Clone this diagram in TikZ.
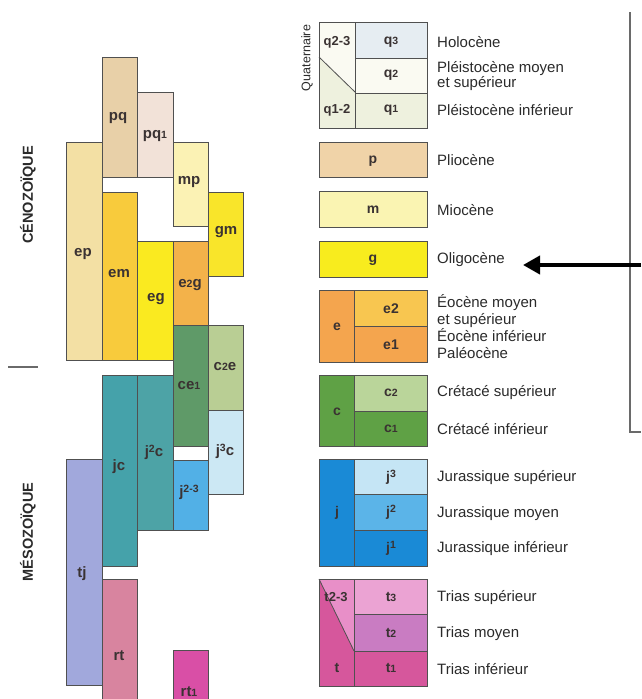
\documentclass[tikz,border=0pt]{standalone}
\usepackage{fontspec}
\setmainfont{Liberation Sans}
\usetikzlibrary{arrows.meta}
\definecolor{boxline}{HTML}{505050}
\definecolor{labtext}{HTML}{3A3232}
\definecolor{legtext}{HTML}{2A2A2A}
\definecolor{cep}{HTML}{F3E0A4}
\definecolor{cpq}{HTML}{E8D0A8}
\definecolor{cpqa}{HTML}{F2E2D8}
\definecolor{cmp}{HTML}{FBF2B4}
\definecolor{cgm}{HTML}{F9E52A}
\definecolor{cem}{HTML}{F8CB3C}
\definecolor{ceg}{HTML}{FAEA20}
\definecolor{cetg}{HTML}{F3B24A}
\definecolor{ccea}{HTML}{5F9A68}
\definecolor{ccte}{HTML}{B9CE94}
\definecolor{cjtc}{HTML}{CCE8F4}
\definecolor{cjtt}{HTML}{52B0E6}
\definecolor{cjdc}{HTML}{4DA3A6}
\definecolor{cjc}{HTML}{45A2AA}
\definecolor{ctj}{HTML}{A1A8DC}
\definecolor{crt}{HTML}{D8849F}
\definecolor{crta}{HTML}{D94FA6}
\definecolor{lqthree}{HTML}{E6EDF2}
\definecolor{lqtwo}{HTML}{FAFAF2}
\definecolor{lqone}{HTML}{EEF1DE}
\definecolor{lp}{HTML}{F0D3A8}
\definecolor{lm}{HTML}{FAF4B2}
\definecolor{lg}{HTML}{F8EC1E}
\definecolor{le}{HTML}{F4A54E}
\definecolor{letwo}{HTML}{F8C650}
\definecolor{lc}{HTML}{5FA145}
\definecolor{lctwo}{HTML}{BAD59A}
\definecolor{lj}{HTML}{1A8AD6}
\definecolor{ljthree}{HTML}{C5E5F5}
\definecolor{ljtwo}{HTML}{5BB4E8}
\definecolor{lt}{HTML}{D6579C}
\definecolor{ltthree}{HTML}{EBA3D3}
\definecolor{lttwo}{HTML}{C97CC2}
\definecolor{lttt}{HTML}{E88FC8}
\definecolor{sepline}{HTML}{6A6A6A}
\newcommand{\sd}[1]{{\fontsize{10.5}{10}\selectfont #1}}
\newcommand{\su}[1]{\raisebox{0.5ex}{\fontsize{10.5}{10}\selectfont #1}}
\begin{document}
\begin{tikzpicture}[x=1pt,y=-1pt,
  box/.style={draw=boxline, line width=0.8pt},
  lab/.style={font=\fontsize{15}{15}\selectfont\bfseries, text=labtext, inner sep=0pt},
  llab/.style={font=\fontsize{14}{14}\selectfont\bfseries, text=labtext, inner sep=0pt},
  desc/.style={font=\fontsize{15}{15}\selectfont, text=legtext, inner sep=0pt, anchor=west, align=left},
  era/.style={font=\fontsize{14.5}{14.5}\selectfont\bfseries, text=legtext, inner sep=0pt, rotate=90},
  rule/.style={draw=sepline, line width=1.2pt}]
\useasboundingbox (0,0) rectangle (641,699);
% ---------------- chart ----------------
\path[box, fill=cep]  (66,142) rectangle (102,360);
\path[box, fill=cpq]  (102,57) rectangle (137,177);
\path[box, fill=cpqa] (137,92) rectangle (173,177);
\path[box, fill=cmp]  (173,142) rectangle (208,226);
\path[box, fill=cgm]  (208,192) rectangle (243,276);
\path[box, fill=cem]  (102,192) rectangle (137,360);
\path[box, fill=ceg]  (137,241) rectangle (173,360);
\path[box, fill=cetg] (173,241) rectangle (208,325);
\path[box, fill=ccea] (173,325) rectangle (208,446);
\path[box, fill=ccte] (208,325) rectangle (243,410);
\path[box, fill=cjtc] (208,410) rectangle (243,494);
\path[box, fill=cjtt] (173,460) rectangle (208,530);
\path[box, fill=cjdc] (137,375) rectangle (173,530);
\path[box, fill=cjc]  (102,375) rectangle (137,566);
\path[box, fill=ctj]  (66,459) rectangle (102,685);
\path[box, fill=crt]  (102,579) rectangle (137,702);
\path[box, fill=crta] (173,650) rectangle (208,702);
\node[lab] (Lpq)  at (118,118) {pq};
\node[lab] (Lpqa) at (155,136) {pq\sd{1}};
\node[lab] (Lep)  at (83,254) {ep};
\node[lab] (Lem)  at (119,274) {em};
\node[lab] (Leg)  at (156,299) {eg};
\node[lab] (Letg) at (190,285) {e\sd{2}g};
\node[lab] (Lmp)  at (189,182) {mp};
\node[lab] (Lgm)  at (226,232) {gm};
\node[lab] (Lcea) at (189,386) {ce\sd{1}};
\node[lab] (Lcte) at (225,367) {c\sd{2}e};
\node[lab] (Ljtc) at (225,451) {j\su{3}c};
\node[lab] (Ljtt) at (189,492) {j\su{2-3}};
\node[lab] (Ljdc) at (154,452) {j\su{2}c};
\node[lab] (Ljc)  at (119,467) {jc};
\node[lab] (Ltj)  at (82,574) {tj};
\node[lab] (Lrt)  at (119,656) {rt};
\node[lab] (Lrta) at (189,692) {rt\sd{1}};
% era labels
\node[era] (ceno) at (28,195) {CÉNOZOÏQUE};
\node[era] (meso) at (28,532) {MÉSOZOÏQUE};
\draw[rule] (8,367) -- (38,367);
% ---------------- legend ----------------
% Quaternary
\path[box, fill=lqthree] (355,22) rectangle (427,58);
\path[box, fill=lqtwo]   (355,58) rectangle (427,93);
\path[box, fill=lqone]   (355,93) rectangle (427,128);
\path[fill=lqtwo] (319,22) -- (355,22) -- (355,92) -- (319,57) -- cycle;
\path[fill=lqone] (319,57) -- (355,92) -- (355,128) -- (319,128) -- cycle;
\draw[boxline, line width=0.8pt] (319,57) -- (355,92);
\draw[box] (319,22) rectangle (427,128);
\draw[box] (355,22) -- (355,128);
\node[llab, font=\fontsize{13}{13}\selectfont\bfseries] (Lqtt) at (337,42) {q2-3};
\node[llab, font=\fontsize{13}{13}\selectfont\bfseries] (Lqot) at (337,110) {q1-2};
\node[llab] (Lqc)  at (391,42) {q\sd{3}};
\node[llab] (Lqb)  at (391,75) {q\sd{2}};
\node[llab] (Lqa)  at (391,110) {q\sd{1}};
\node[font=\fontsize{12.5}{12.5}\selectfont, text=legtext, inner sep=0pt, rotate=90] (quat) at (307,58) {Quaternaire};
% p, m, g
\path[box, fill=lp] (319,142) rectangle (427,177);
\path[box, fill=lm] (319,191) rectangle (427,227);
\path[box, fill=lg] (319,241) rectangle (427,277);
\node[llab] (Lp) at (373,161) {p};
\node[llab] (Lm) at (373,210) {m};
\node[llab] (Lg) at (373,260) {g};
% e
\path[box, fill=le]    (319,290) rectangle (354,362);
\path[box, fill=letwo] (354,290) rectangle (427,326);
\path[box, fill=le]    (354,326) rectangle (427,362);
\node[llab] (Le)  at (337,327) {e};
\node[llab] (Leb) at (391,309) {e2};
\node[llab] (Lea) at (391,345) {e1};
% c
\path[box, fill=lc]    (319,375) rectangle (354,446);
\path[box, fill=lctwo] (354,375) rectangle (427,411);
\path[box, fill=lc]    (354,411) rectangle (427,446);
\node[llab] (Lc)  at (337,412) {c};
\node[llab] (Lcb) at (391,393) {c\sd{2}};
\node[llab] (Lca) at (391,429) {c\sd{1}};
% j
\path[box, fill=lj]      (319,459) rectangle (354,566);
\path[box, fill=ljthree] (354,459) rectangle (427,494);
\path[box, fill=ljtwo]   (354,494) rectangle (427,530);
\path[box, fill=lj]      (354,530) rectangle (427,566);
\node[llab] (Lj)  at (337,513) {j};
\node[llab] (Ljc3) at (391,477) {j\su{3}};
\node[llab] (Ljb) at (391,512) {j\su{2}};
\node[llab] (Lja) at (391,548) {j\su{1}};
% t
\path[box, fill=ltthree] (354,579) rectangle (427,614);
\path[box, fill=lttwo]   (354,614) rectangle (427,651);
\path[box, fill=lt]      (354,651) rectangle (427,686);
\path[fill=lttt] (319,579) -- (354,579) -- (354,651) -- cycle;
\path[fill=lt] (319,579) -- (354,651) -- (354,686) -- (319,686) -- cycle;
\draw[boxline, line width=0.8pt] (319,579) -- (354,651);
\draw[box] (319,579) rectangle (427,686);
\draw[box] (354,579) -- (354,686);
\node[llab, font=\fontsize{13}{13}\selectfont\bfseries] (Ltt) at (336,597) {t2-3};
\node[llab] (Lt)  at (337,668) {t};
\node[llab] (Ltc) at (391,597) {t\sd{3}};
\node[llab] (Ltb) at (391,633) {t\sd{2}};
\node[llab] (Lta) at (391,668) {t\sd{1}};
% descriptions
\node[desc] (Dholo) at (437,42) {Holocène};
\node[desc, font=\fontsize{15}{15}\selectfont] (Dpms) at (437,76) {Pléistocène moyen\\et supérieur};
\node[desc] (Dpi) at (437,110) {Pléistocène inférieur};
\node[desc] (Dplio) at (437,160) {Pliocène};
\node[desc] (Dmio) at (437,210) {Miocène};
\node[desc] (Doligo) at (437,260) {Oligocène};
\node[desc, font=\fontsize{15}{17}\selectfont] (Deo) at (437,327) {Éocène moyen\\et supérieur\\Éocène inférieur\\Paléocène};
\node[desc] (Dcs) at (437,393) {Crétacé supérieur};
\node[desc] (Dci) at (437,429) {Crétacé inférieur};
\node[desc] (Djs) at (437,478) {Jurassique supérieur};
\node[desc] (Djm) at (437,514) {Jurassique moyen};
\node[desc] (Dji) at (437,549) {Jurassique inférieur};
\node[desc] (Dts) at (437,598) {Trias supérieur};
\node[desc] (Dtm) at (437,634) {Trias moyen};
\node[desc] (Dti) at (437,669) {Trias inférieur};
% right frame line
\coordinate (ftop) at (630,12);
\coordinate (fcorner) at (630,432);
\coordinate (fend) at (641,432);
\draw[rule] (ftop) -- (fcorner) -- (fend);
% arrow
\coordinate (astart) at (641,265);
\coordinate (atip) at (523,265);
\draw[line width=4pt, -{Triangle[length=17pt,width=18pt]}] (astart) -- (atip);
\end{tikzpicture}
\end{document}
